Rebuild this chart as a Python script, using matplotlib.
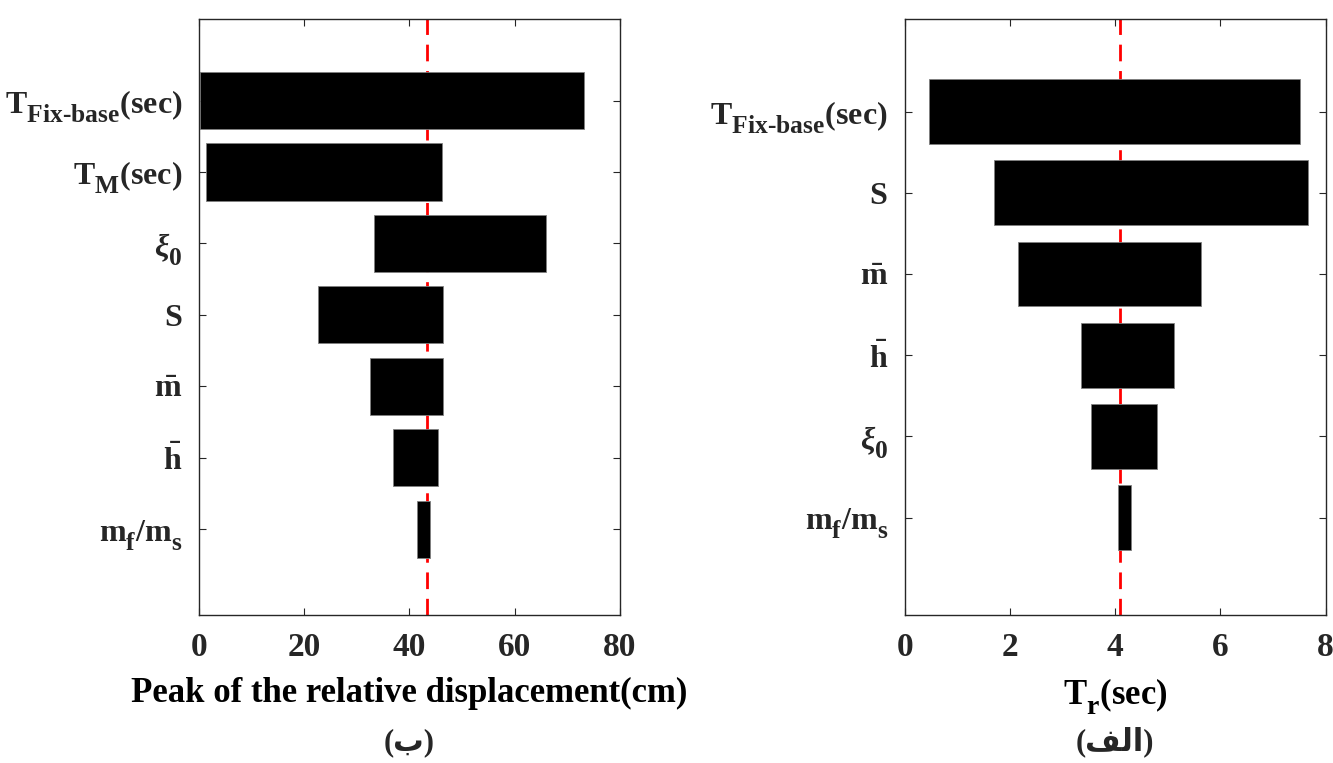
import numpy as np
import matplotlib
matplotlib.use("Agg")
import matplotlib.pyplot as plt
import matplotlib._mathtext as mathtext_internal

# Times-like bold text everywhere, DejaVu as fallback for the Arabic captions
plt.rcParams['font.family'] = ['Liberation Serif', 'DejaVu Sans']
plt.rcParams['font.weight'] = 'bold'
plt.rcParams['mathtext.fontset'] = 'custom'
plt.rcParams['mathtext.rm'] = 'Liberation Serif:bold'
plt.rcParams['mathtext.it'] = 'Liberation Serif:bold:italic'
plt.rcParams['mathtext.bf'] = 'Liberation Serif:bold'

# bigger, lower subscripts (TeX-interpreter look)
mathtext_internal.SHRINK_FACTOR = 0.8
mathtext_internal.FontConstantsBase.sub1 = 0.6
mathtext_internal.FontConstantsBase.sub2 = 0.7

# (ب) peak relative displacement, cm
disp_labels = [r'$\mathrm{T}_{\text{Fix-base}}\mathrm{(sec)}$',
               r'$\mathrm{T_M(sec)}$',
               r'$\xi_0$',
               r'$\mathrm{S}$',
               r'$\bar{\mathrm{m}}$',
               r'$\bar{\mathrm{h}}$',
               r'$\mathrm{m_f/m_s}$']
disp_low = [0.2, 1.4, 33.3, 22.7, 32.5, 36.9, 41.4]
disp_high = [73.1, 46.2, 66.0, 46.4, 46.4, 45.4, 43.9]
disp_base = 43.4

# (الف) Tr, sec
tr_labels = [r'$\mathrm{T}_{\text{Fix-base}}\mathrm{(sec)}$',
             r'$\mathrm{S}$',
             r'$\bar{\mathrm{m}}$',
             r'$\bar{\mathrm{h}}$',
             r'$\xi_0$',
             r'$\mathrm{m_f/m_s}$']
tr_low = [0.47, 1.70, 2.15, 3.35, 3.55, 4.06]
tr_high = [7.52, 7.67, 5.63, 5.12, 4.80, 4.30]
tr_base = 4.10

fig = plt.figure(figsize=(13.33, 7.63), dpi=100)
ax1 = fig.add_axes([0.1493, 0.194, 0.3158, 0.781])
ax2 = fig.add_axes([0.6786, 0.194, 0.3158, 0.781])


def tornado(ax, labels, low, high, base, xmax, xticks, xlabel):
    pos = np.arange(1, len(labels) + 1)
    low = np.array(low)
    high = np.array(high)
    ax.axvline(base, color='red', lw=2.0, dashes=(6, 3.5), zorder=1)
    ax.barh(pos, high - low, left=low, height=0.8, color='black',
            edgecolor='#808080', linewidth=0.6, zorder=2)
    ax.set_xlim(0, xmax)
    ax.set_ylim(len(labels) + 1.2, -0.14)
    ax.set_yticks(pos)
    ax.set_yticklabels(labels, fontsize=23)
    ax.set_xticks(xticks)
    ax.set_xticklabels([str(t) for t in xticks], fontsize=24, fontweight='bold')
    ax.set_xlabel(xlabel, fontsize=25, fontweight='bold', labelpad=10)
    ax.tick_params(direction='in', length=5, width=0.8, top=True, right=True,
                   color='#262626', labelcolor='#262626', pad=12)
    for sp in ax.spines.values():
        sp.set_color('#262626')
        sp.set_linewidth(1.0)


tornado(ax1, disp_labels, disp_low, disp_high, disp_base, 80,
        [0, 20, 40, 60, 80], 'Peak of the relative displacement(cm)')
tornado(ax2, tr_labels, tr_low, tr_high, tr_base, 8,
        [0, 2, 4, 6, 8], r'$\mathrm{T_r(sec)}$')

# panel captions
fig.text(0.1493 + 0.3158 / 2, 0.008, '(\u0628)', ha='center', va='bottom',
         fontsize=22, fontweight='bold', color='#262626')
fig.text(0.6786 + 0.3158 / 2, 0.008, '(\uFED2\uFEDF\uFE8D)', ha='center',
         va='bottom', fontsize=22, fontweight='bold', color='#262626')

fig.savefig('out.png', dpi=100)
